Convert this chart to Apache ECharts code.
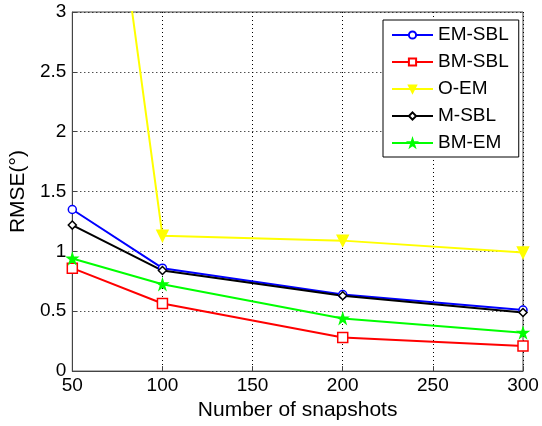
<!DOCTYPE html>
<html><head><meta charset="utf-8">
<script src="https://cdn.jsdelivr.net/npm/echarts@6/dist/echarts.min.js"></script>
<style>html,body{margin:0;padding:0;background:#fff}#c{width:542px;height:426px}</style>
</head><body><div id="c"></div>
<script>
var snapshots = [50, 100, 200, 300];
var emSbl = [1.35, 0.86, 0.64, 0.51];
var bmSbl = [0.86, 0.565, 0.28, 0.21];
var oEm = [6.7, 1.13, 1.09, 0.99];
var mSbl = [1.22, 0.84, 0.63, 0.49];
var bmEm = [0.94, 0.725, 0.44, 0.32];
var yTicks = [0, 0.5, 1, 1.5, 2, 2.5, 3];
var xTicks = [50, 100, 150, 200, 250, 300];

function pairs(v){ return snapshots.map(function(x,i){ return [x, v[i]]; }); }
var F = 'Liberation Sans, Arial, sans-serif';
function mk(name, data, color, symbol, size, filled){
  return {
    name: name, type: 'line', data: pairs(data), clip: true,
    symbol: symbol, symbolSize: size, showAllSymbol: true,
    lineStyle: {color: color, width: 2},
    itemStyle: {color: filled ? color : '#fff', borderColor: color, borderWidth: 1.5},
    emphasis: {disabled: true}, animation: false
  };
}
var chart = echarts.init(document.getElementById('c'));
chart.setOption({
  animation: false,
  backgroundColor: '#fff',
  grid: {left: 70, right: 19, top: 12, bottom: 54, show: true, borderColor: '#444', borderWidth: 1, backgroundColor: 'transparent'},
  legend: {
    orient: 'vertical', left: 383, top: 20, width: 135,
    backgroundColor: '#fff', borderColor: '#000', borderWidth: 1,
    padding: [5, 10, 4, 8], itemWidth: 41, itemHeight: 9, itemGap: 7,
    textStyle: {fontFamily: F, fontSize: 19, color: '#000', lineHeight: 20},
    data: ['EM-SBL', 'BM-SBL', 'O-EM', 'M-SBL', 'BM-EM']
  },
  xAxis: {
    type: 'value', min: 50, max: 300, interval: 50,
    name: 'Number of snapshots', nameLocation: 'middle', nameGap: 27,
    nameTextStyle: {fontFamily: F, fontSize: 21, color: '#000'},
    axisLine: {lineStyle: {color: '#444'}},
    axisTick: {inside: true, length: 5, lineStyle: {color: '#444'}},
    axisLabel: {fontFamily: F, fontSize: 19, color: '#000', margin: 5},
    splitLine: {show: true, lineStyle: {color: '#000', type: [1, 3], width: 1}}
  },
  yAxis: {
    type: 'value', min: 0, max: 3, interval: 0.5,
    name: 'RMSE(°)', nameLocation: 'middle', nameGap: 40,
    nameTextStyle: {fontFamily: F, fontSize: 21, color: '#000'},
    axisLine: {show: true, lineStyle: {color: '#444'}},
    axisTick: {show: true, inside: true, length: 5, lineStyle: {color: '#444'}},
    axisLabel: {fontFamily: F, fontSize: 19, color: '#000', margin: 6},
    splitLine: {show: true, lineStyle: {color: '#000', type: [1, 3], width: 1}}
  },
  series: [
    mk('EM-SBL', emSbl, '#0000ff', 'circle', 8, false),
    mk('BM-SBL', bmSbl, '#ff0000', 'rect', 10, false),
    mk('O-EM', oEm, '#ffff00', 'path://M0,0 L10,0 L5,9 Z', 11, true),
    mk('M-SBL', mSbl, '#000000', 'diamond', 8, false),
    mk('BM-EM', bmEm, '#00ff00', 'path://M5,0 L6.2,3.6 L10,3.6 L6.9,5.8 L8.1,9.5 L5,7.2 L1.9,9.5 L3.1,5.8 L0,3.6 L3.8,3.6 Z', 10, true)
  ]
});
</script></body></html>
